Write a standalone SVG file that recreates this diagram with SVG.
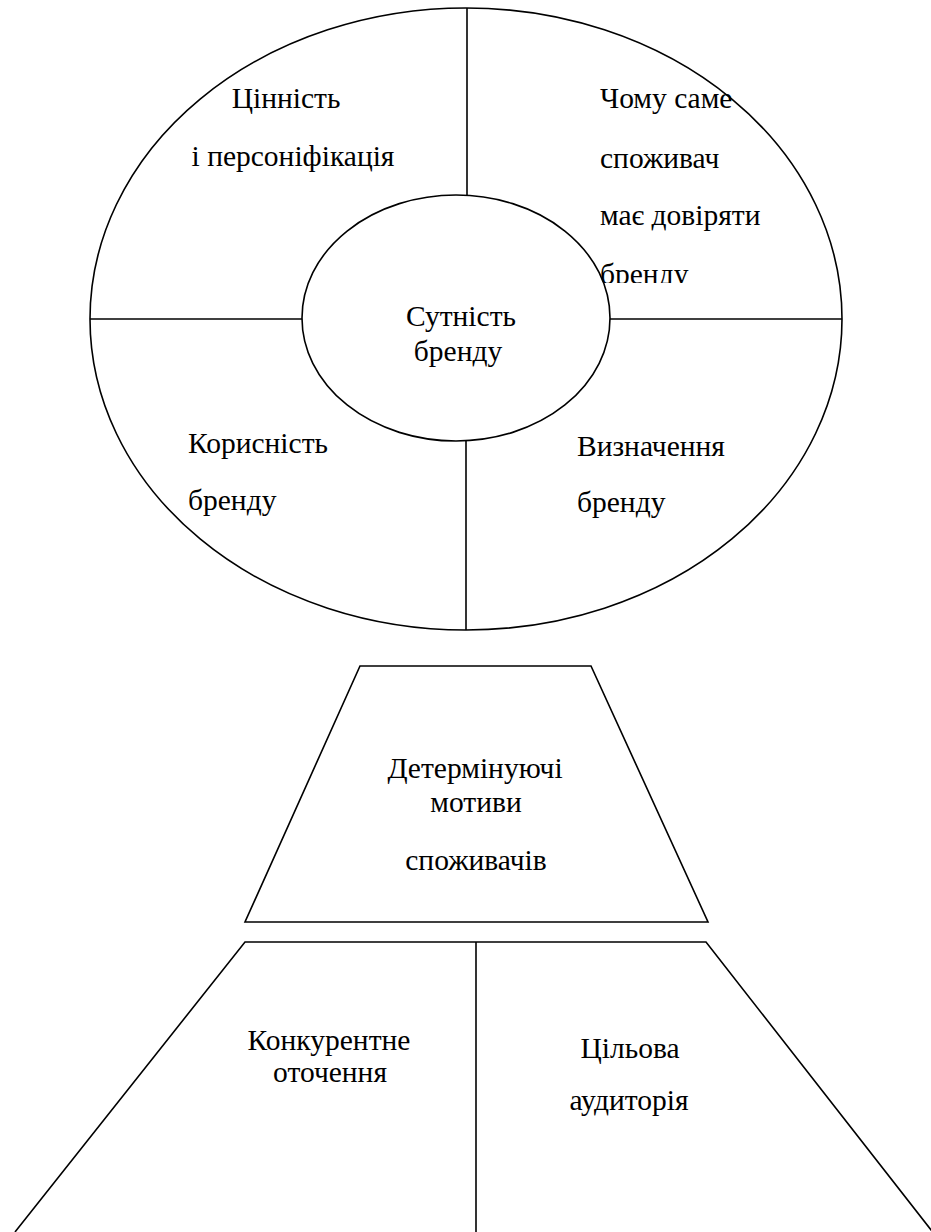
<svg xmlns="http://www.w3.org/2000/svg" width="931" height="1232" viewBox="0 0 931 1232">
<style>
.s{fill:none;stroke:#000;stroke-width:1.6}
.w{fill:#fff;stroke:#000;stroke-width:1.6}
text{font-family:'Liberation Serif','Times New Roman',serif;font-size:29.5px;fill:#000}
.m{text-anchor:middle}
</style>
<defs>
<clipPath id="clipR"><rect x="560" y="60" width="300" height="223"/></clipPath>
</defs>
<rect width="931" height="1232" fill="#fff"/>
<g id="outer-ellipse">
<ellipse class="w" cx="466" cy="319" rx="376" ry="311"/>
</g>
<g id="connectors">
<line class="s" x1="467" y1="8" x2="467" y2="196"/>
<line class="s" x1="466" y1="441" x2="466" y2="630"/>
<line class="s" x1="90" y1="319" x2="303" y2="319"/>
<line class="s" x1="610" y1="319" x2="842" y2="319"/>
<line class="s" x1="476" y1="942" x2="476" y2="1240"/>
</g>
<g id="inner-circle">
<ellipse class="w" cx="456" cy="318" rx="154" ry="123"/>
<text class="m" x="461" y="326">Сутність</text>
<text class="m" x="458" y="361">бренду</text>
</g>
<g id="q-value">
<text class="m" x="286" y="108">Цінність</text>
<text class="m" x="293" y="166">і персоніфікація</text>
</g>
<g id="q-trust" clip-path="url(#clipR)">
<text x="600" y="108">Чому саме</text>
<text x="600" y="168">споживач</text>
<text x="600" y="225">має довіряти</text>
<text x="600" y="284">бренду</text>
</g>
<g id="q-benefit">
<text x="188" y="453">Корисність</text>
<text x="188" y="510">бренду</text>
</g>
<g id="q-definition">
<text x="577" y="456">Визначення</text>
<text x="577" y="512">бренду</text>
</g>
<g id="motives">
<polygon class="s" points="360,666 591,666 708,922 245,922"/>
<text class="m" x="475" y="778">Детермінуючі</text>
<text class="m" x="476" y="812">мотиви</text>
<text class="m" x="476" y="870">споживачів</text>
</g>
<g id="environment">
<polyline class="s" points="15,1232 245,942 706,942 935,1235"/>
<text class="m" x="329" y="1050">Конкурентне</text>
<text class="m" x="330" y="1082">оточення</text>
<text class="m" x="630" y="1058">Цільова</text>
<text class="m" x="629" y="1110">аудиторія</text>
</g>
</svg>
